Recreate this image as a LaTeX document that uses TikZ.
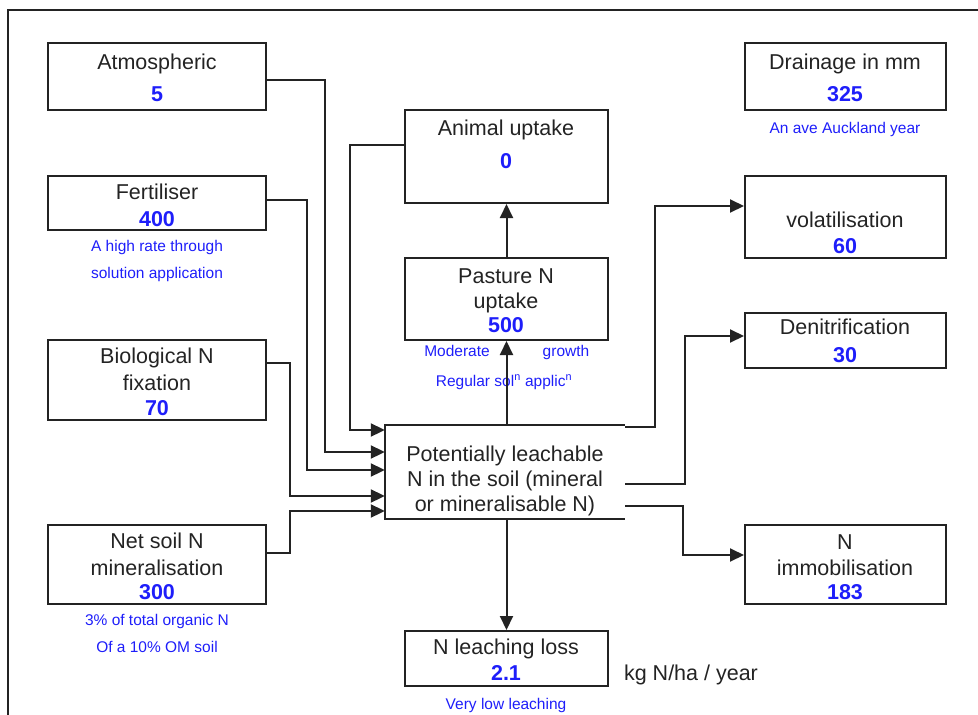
\documentclass[tikz,border=0pt]{standalone}
\usepackage{fontspec}
\setmainfont{Liberation Sans}
\usetikzlibrary{arrows.meta}
\definecolor{nblue}{RGB}{30,30,250}
\definecolor{ink}{RGB}{35,35,35}
\tikzset{
  box/.style={draw=ink, line width=2pt, rectangle, inner sep=0pt},
  ttl/.style={anchor=base, inner sep=0pt, text=ink, font=\fontsize{21.5}{25}\selectfont},
  num/.style={anchor=base, inner sep=0pt, text=nblue, font=\fontsize{21.5}{25}\selectfont\bfseries},
  note/.style={anchor=base, inner sep=0pt, text=nblue, font=\fontsize{15.5}{18}\selectfont},
  conn/.style={draw=ink, line width=2pt},
  arr/.style={conn, -{Triangle[length=14pt,width=13pt]}},
}
\begin{document}
\begin{tikzpicture}[x=1pt,y=-1pt]
\useasboundingbox (0,0) rectangle (978,715);
% frame
\draw[ink, line width=2pt] (8,716) -- (8,10) -- (979,10);

% boxes
\node[box, minimum width=218pt, minimum height=67pt] (atm) at (157,76.5) {};
\node[box, minimum width=218pt, minimum height=54pt] (fert) at (157,203) {};
\node[box, minimum width=218pt, minimum height=80pt] (bio) at (157,380) {};
\node[box, minimum width=218pt, minimum height=79pt] (net) at (157,564.5) {};
\node[box, minimum width=203pt, minimum height=93pt] (animal) at (506.5,156.5) {};
\node[box, minimum width=203pt, minimum height=82pt] (pasture) at (506.5,299) {};
\node[box, minimum width=201pt, minimum height=67pt] (drain) at (845.5,76.5) {};
\node[box, minimum width=201pt, minimum height=82pt] (vol) at (845.5,217) {};
\node[box, minimum width=201pt, minimum height=55pt] (denit) at (845.5,340.5) {};
\node[box, minimum width=201pt, minimum height=79pt] (immob) at (845.5,564.5) {};
\node[rectangle, inner sep=0pt, minimum width=240pt, minimum height=94pt] (soil) at (505,472) {};
\draw[ink, line width=2pt] (soil.north east) -- (soil.north west) -- (soil.south west) -- (soil.south east);
\node[box, minimum width=203pt, minimum height=55pt] (leach) at (506.5,658.5) {};

% texts
\node[ttl] (atmT) at (157,69) {Atmospheric};
\node[num] (atmN) at (157,101) {5};
\node[ttl] (fertT) at (157,199) {Fertiliser};
\node[num] (fertN) at (157,226) {400};
\node[note] (fertA) at (157,251) {A high rate through};
\node[note] (fertB) at (157,278) {solution application};
\node[ttl] (bioT1) at (157,363) {Biological N};
\node[ttl] (bioT2) at (157,390) {fixation};
\node[num] (bioN) at (157,415) {70};
\node[ttl] (netT1) at (157,548) {Net soil N};
\node[ttl] (netT2) at (157,575) {mineralisation};
\node[num] (netN) at (157,599) {300};
\node[note] (netA) at (157,625) {3\% of total organic N};
\node[note] (netB) at (157,652) {Of a 10\% OM soil};
\node[ttl] (animT) at (506,135) {Animal uptake};
\node[num] (animN) at (506,168) {0};
\node[ttl] (pasT1) at (506,283) {Pasture N};
\node[ttl] (pasT2) at (506,308) {uptake};
\node[num] (pasN) at (506,332) {500};
\node[note] (pasA) at (457,356) {Moderate};
\node[note] (pasB) at (566,356) {growth};
\node[note] (pasC) at (504,386) {Regular sol\textsuperscript{n} applic\textsuperscript{n}};
\node[ttl] (drT) at (845,69) {Drainage in mm};
\node[num] (drN) at (845,101) {325};
\node[note] (drA) at (845,133) {An ave Auckland year};
\node[ttl] (volT) at (845,227) {volatilisation};
\node[num] (volN) at (845,253) {60};
\node[ttl] (denT) at (845,334) {Denitrification};
\node[num] (denN) at (845,362) {30};
\node[ttl] (imT1) at (845,549) {N};
\node[ttl] (imT2) at (845,575) {immobilisation};
\node[num] (imN) at (845,599) {183};
\node[ttl] (soT1) at (505,461) {Potentially leachable};
\node[ttl] (soT2) at (505,486) {N in the soil (mineral};
\node[ttl] (soT3) at (505,511) {or mineralisable N)};
\node[ttl] (leT) at (506,654) {N leaching loss};
\node[num] (leN) at (506,680) {2.1};
\node[note] (leA) at (506,709) {Very low leaching};
\node[ttl] (unit) at (691,680) {kg N/ha / year};

% connectors into soil
\draw[arr] (atm.east |- 0,80) -| (325,452) -- (soil.west |- 0,452);
\draw[arr] (fert.east |- 0,200) -| (307,470) -- (soil.west |- 0,470);
\draw[arr] (animal.west |- 0,145) -| (350,430) -- (soil.west |- 0,430);
\draw[arr] (bio.east |- 0,363) -| (290,496) -- (soil.west |- 0,496);
\draw[arr] (net.east |- 0,553) -| (290,511) -- (soil.west |- 0,511);
% vertical
\draw[arr] (pasture.south |- soil.north) -- (pasture.south);
\draw[arr] (pasture.north) -- (animal.south);
\draw[arr] (leach.north |- soil.south) -- (leach.north);
% out of soil
\draw[arr] (soil.east |- 0,427) -| (655,206) -- (vol.west |- 0,206);
\draw[arr] (soil.east |- 0,484) -| (685,336) -- (denit.west |- 0,336);
\draw[arr] (soil.east |- 0,506) -| (683,555) -- (immob.west |- 0,555);
\end{tikzpicture}
\end{document}
